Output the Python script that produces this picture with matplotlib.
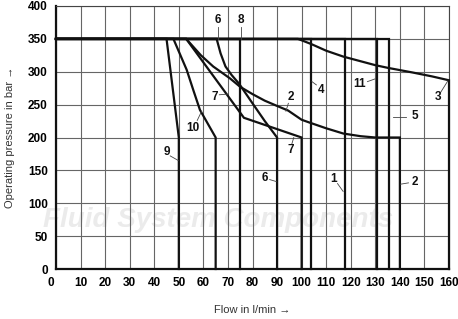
import matplotlib
matplotlib.use("Agg")
import matplotlib.pyplot as plt
import matplotlib.transforms as mtransforms

plt.rcParams['font.family'] = ['Liberation Sans Narrow', 'Liberation Sans', 'DejaVu Sans']

# characteristic curves: flow (l/min) vs operating pressure (bar)
c1_x = [0, 117.5, 117.5]
c1_y = [350, 350, 0]
c2_x = [0, 53, 59, 64, 70.8, 75, 80, 85, 90, 94.5, 100, 103, 110, 117, 124, 130, 140, 140]
c2_y = [350, 350, 325, 308, 290, 277, 266, 256, 248, 241, 227, 223, 214, 206, 202, 200, 200, 0]
c3_x = [0, 98.5, 104, 110, 117, 124, 130, 135, 145, 153, 160, 160]
c3_y = [350, 350, 342, 332, 323, 316, 310, 306, 299, 293, 287, 0]
c4_x = [0, 104, 104]
c4_y = [350, 350, 0]
c5_x = [0, 135.5, 135.5]
c5_y = [350, 350, 0]
c6_x = [0, 65.4, 67, 69, 71.5, 74.5, 80, 85, 90, 90]
c6_y = [350, 350, 328, 308, 295, 282, 252, 225, 200, 0]
c7_x = [0, 53, 76.5, 100, 100]
c7_y = [350, 350, 230, 200, 0]
c8_x = [0, 75, 75]
c8_y = [350, 350, 0]
c9_x = [0, 45, 50, 50]
c9_y = [350, 350, 200, 0]
c10_x = [0, 47.8, 53.2, 56, 58.6, 65, 65]
c10_y = [350, 350, 303, 271, 242, 200, 0]
c11_x = [0, 130.5, 130.5]
c11_y = [350, 350, 0]

curves = [(c1_x, c1_y), (c2_x, c2_y), (c3_x, c3_y), (c4_x, c4_y), (c5_x, c5_y),
          (c6_x, c6_y), (c7_x, c7_y), (c8_x, c8_y), (c9_x, c9_y), (c10_x, c10_y),
          (c11_x, c11_y)]

# curve labels: text, label position, leader end
label_text = ['1', '2', '2', '3', '4', '5', '6', '6', '7', '7', '8', '9', '10', '11']
label_pos = [(113.2, 137), (95.5, 262), (146, 132), (155.4, 261), (107.8, 272), (146, 232),
             (66, 378), (85, 138), (64.5, 262), (95.5, 181), (75.2, 378), (45, 178),
             (55.6, 215), (123.5, 281)]
leader_from = [(114.6, 130), (94.6, 252), (143.5, 131), (156.5, 268), (106, 280), (137, 231),
               (66, 368), (87, 136), (66.5, 265), (96, 190), (75.2, 368), (46.5, 172),
               (57.5, 226), (126.8, 285)]
leader_to = [(116.9, 118), (93.6, 240), (140.3, 129), (159.5, 286), (104.2, 285), (142.5, 231),
             (66, 350), (89.7, 133), (70, 266), (96.8, 200), (75.2, 350), (49.8, 165),
             (59.3, 240), (129.8, 289)]

x_ticks = list(range(0, 161, 10))
y_ticks = list(range(0, 401, 50))

fig = plt.figure(figsize=(4.58, 3.19), dpi=100)
ax = fig.add_axes([56 / 458, 50 / 319, 393 / 458, 263 / 319])

ax.text(66, 74, 'Fluid System Components', fontsize=20, fontweight='bold', style='italic',
        color='#ebebeb', ha='center', va='center', zorder=0, clip_on=False)

for x, y in curves:
    ax.plot(x, y, color='#111111', lw=1.6, solid_joinstyle='miter', zorder=3, clip_on=False)

for t, (lx, ly), (fx, fy), (tx, ty) in zip(label_text, label_pos, leader_from, leader_to):
    ax.plot([fx, tx], [fy, ty], color='#444444', lw=0.6, zorder=4, clip_on=False)
    ax.text(lx, ly, t, fontsize=8.5, fontweight='bold', ha='center', va='center',
            color='#111111', zorder=5, clip_on=False)

ax.set_xlim(0, 160)
ax.set_ylim(0, 400)
ax.set_xticks(x_ticks)
ax.set_yticks(y_ticks)
ax.grid(True, color='#666666', lw=0.8, zorder=1)
ax.set_axisbelow(True)
ax.tick_params(length=0, labelsize=8.5, pad=6)
for lab in ax.get_xticklabels() + ax.get_yticklabels():
    lab.set_fontweight('bold')
first = ax.get_xticklabels()[0]
first.set_transform(first.get_transform() + mtransforms.ScaledTranslation(-5 / 100, 0, fig.dpi_scale_trans))

for side in ['top', 'right']:
    ax.spines[side].set_linewidth(0.8)
    ax.spines[side].set_color('#444444')
for side in ['left', 'bottom']:
    ax.spines[side].set_linewidth(1.6)
    ax.spines[side].set_color('#111111')

ax.set_xlabel('Flow in l/min →', fontsize=8, labelpad=11, color='#333333')
ax.set_ylabel('Operating pressure in bar →', fontsize=8, labelpad=9, color='#333333')

fig.savefig('out.png', dpi=100)
